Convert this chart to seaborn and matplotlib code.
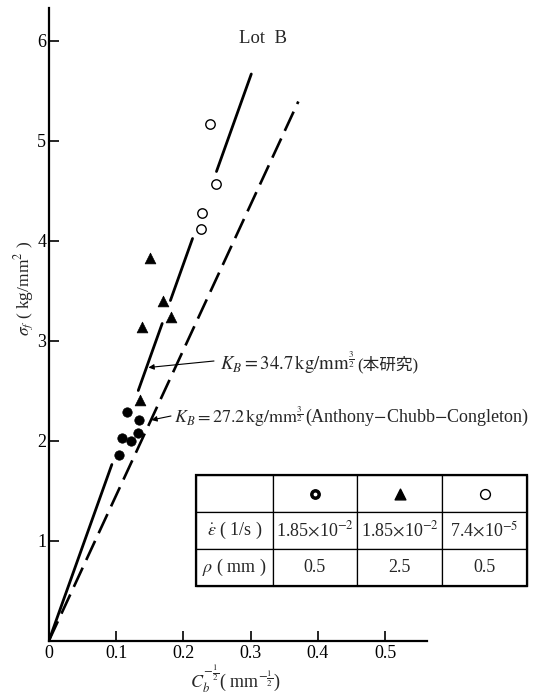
import numpy as np
import pandas as pd
import matplotlib
matplotlib.use("Agg")
import matplotlib.pyplot as plt
import seaborn as sns

# ---------------- data ----------------
# filled circles: strain rate 1.85e-2 1/s, rho 0.5 mm
fast_x = [0.116, 0.134, 0.132, 0.109, 0.122, 0.104]
fast_y = [2.29, 2.205, 2.08, 2.03, 2.00, 1.855]
# filled triangles: strain rate 1.85e-2 1/s, rho 2.5 mm
blunt_x = [0.150, 0.169, 0.181, 0.139, 0.136]
blunt_y = [3.83, 3.395, 3.24, 3.14, 2.41]
# open circles: strain rate 7.4e-5 1/s, rho 0.5 mm
slow_x = [0.239, 0.249, 0.228, 0.226]
slow_y = [5.17, 4.57, 4.28, 4.11]

# fitted lines (through origin)
present_x = [0.0, 0.301]      # K_B = 34.7 (this study), solid
present_y = [0.0, 5.665]
acc_x = [0.0, 0.371]          # K_B = 27.2 (Anthony-Chubb-Congleton), dashed
acc_y = [0.0, 5.39]
# y-ranges where the solid line is drawn (it is broken around the points)
present_pieces_y = [(0.0, 1.76), (2.50, 3.17), (3.40, 4.02), (4.69, 5.665)]

x_ticks = [0, 0.1, 0.2, 0.3, 0.4, 0.5]
x_ticklabels = ["0", "0.1", "0.2", "0.3", "0.4", "0.5"]
y_ticks = [1, 2, 3, 4, 5, 6]
y_ticklabels = ["1", "2", "3", "4", "5", "6"]

table_rows = [
    ["", "", "", ""],
    [r"$\dot{\epsilon}$ ( 1/s )", r"1.85$\times$10$^{-2}$", r"1.85$\times$10$^{-2}$", r"7.4$\times$10$^{-5}$"],
    [r"$\rho$ ( mm )", "0.5", "2.5", "0.5"],
]

# ---------------- style ----------------
sns.set_style("ticks")
plt.rcParams["font.family"] = ["Liberation Serif", "Noto Sans CJK JP", "DejaVu Sans"]
plt.rcParams["mathtext.fontset"] = "stix"

W, H = 540, 693
fig = plt.figure(figsize=(W / 100, H / 100), dpi=100)
ax_l, ax_r, ax_b, ax_t = 49, 426.7, 640.5, 8
ax = fig.add_axes([ax_l / W, 1 - ax_b / H, (ax_r - ax_l) / W, (ax_b - ax_t) / H])

# solid line in pieces
slope = present_y[1] / present_x[1]
seg_rows = []
for i, (y0, y1) in enumerate(present_pieces_y):
    seg_rows.append({"x": y0 / slope, "y": y0, "seg": i})
    seg_rows.append({"x": y1 / slope, "y": y1, "seg": i})
seg_df = pd.DataFrame(seg_rows)
sns.lineplot(data=seg_df, x="x", y="y", units="seg", estimator=None, color="black",
             lw=2.0, ax=ax, legend=False)

acc_df = pd.DataFrame({"x": acc_x, "y": acc_y})
sns.lineplot(data=acc_df, x="x", y="y", color="black", lw=1.9, ax=ax,
             dashes=False, legend=False)
ax.lines[-1].set_dashes((8, 3.2))

sns.scatterplot(x=fast_x, y=fast_y, marker="o", s=46, color="black",
                edgecolor="black", linewidth=0.5, ax=ax, zorder=5)
sns.scatterplot(x=blunt_x, y=blunt_y, marker="^", s=60, color="black",
                edgecolor="black", linewidth=0.5, ax=ax, zorder=5)
sns.scatterplot(x=slow_x, y=slow_y, marker="o", s=46, facecolor="white",
                edgecolor="black", linewidth=1.0, ax=ax, zorder=5)

ax.set_xlim(0, 0.562)
ax.set_ylim(0, 6.325)
ax.set_xticks(x_ticks)
ax.set_xticklabels(x_ticklabels)
ax.set_yticks(y_ticks)
ax.set_yticklabels(y_ticklabels)
ax.tick_params(axis="both", direction="in", length=7, width=1.2, labelsize=13,
               color="black", labelcolor="black")
ax.tick_params(axis="y", pad=2)
ax.tick_params(axis="x", pad=3)
sns.despine(ax=ax)
for s in ["left", "bottom"]:
    ax.spines[s].set_linewidth(1.6)
    ax.spines[s].set_color("black")

ax.set_xlabel(r"$C_b^{-\frac{1}{2}}$( mm$^{-\frac{1}{2}}$)", fontsize=13, va="center")
ax.xaxis.set_label_coords(0.494, -0.060)
ax.set_ylabel(r"$\sigma_f$ ( kg/mm$^2$ )", fontsize=12.5, va="center")
ax.yaxis.set_label_coords(-0.066, 0.557)

ax.text(0.319, 6.02, "Lot  B", fontsize=13.5, ha="center", va="center")

# annotations
ann_fs = 13
t1 = ax.text(0.254, 2.775, r"$K_B=34.7\,\mathrm{kg/mm}^{\frac{3}{2}}$", fontsize=13.5,
             ha="left", va="center")
ax.annotate("", xy=(0.148, 2.73), xytext=(0.2455, 2.795),
            arrowprops=dict(arrowstyle="-|>", lw=0.8, color="black",
                            mutation_scale=8, shrinkA=0, shrinkB=0))
ax.annotate("(本研究)", xy=(1, 0.5), xycoords=t1, fontsize=12, ha="left",
            va="center", xytext=(2, -1), textcoords="offset points")

t2 = ax.text(0.186, 2.24, r"$K_B=27.2\,\mathrm{kg/mm}^{\frac{3}{2}}$", fontsize=ann_fs,
             ha="left", va="center")
ax.annotate("", xy=(0.1524, 2.205), xytext=(0.1815, 2.245),
            arrowprops=dict(arrowstyle="-|>", lw=0.8, color="black",
                            mutation_scale=8, shrinkA=0, shrinkB=0))
ax.annotate("(Anthony$-$Chubb$-$Congleton)", xy=(1, 0.5), xycoords=t2, fontsize=ann_fs,
            ha="left", va="center", xytext=(1, -1), textcoords="offset points")

# table
tl, tr, tt, tb = 196, 527, 475, 586
tax = fig.add_axes([tl / W, 1 - tb / H, (tr - tl) / W, (tb - tt) / H])
tax.set_xlim(0, 1)
tax.set_ylim(0, 1)
tax.axis("off")
col_w = np.array([77, 84, 85, 85], dtype=float)
col_w = col_w / col_w.sum()
tbl = tax.table(cellText=table_rows, colWidths=list(col_w), bbox=[0, 0, 1, 1],
                cellLoc="center")
tbl.auto_set_font_size(False)
tbl.set_fontsize(13)
for (r, c), cell in tbl.get_celld().items():
    cell.set_linewidth(0.9)
    cell.set_edgecolor("black")
    cell.PAD = 0.02
tax.add_patch(plt.Rectangle((0, 0), 1, 1, fill=False, lw=1.6, color="black",
                            transform=tax.transAxes, clip_on=False))
centers = np.cumsum(col_w) - col_w / 2
hy = 1 - 1 / 6
tax.scatter([centers[1]], [hy], s=46, marker="o", color="black", zorder=5)
tax.scatter([centers[1]], [hy], s=3, marker="o", color="white", zorder=6)
tax.scatter([centers[2]], [hy], s=60, marker="^", color="black", zorder=5)
tax.scatter([centers[3]], [hy], s=50, marker="o", facecolor="white",
            edgecolor="black", linewidth=1.0, zorder=5)

fig.savefig("out.png", dpi=100)
